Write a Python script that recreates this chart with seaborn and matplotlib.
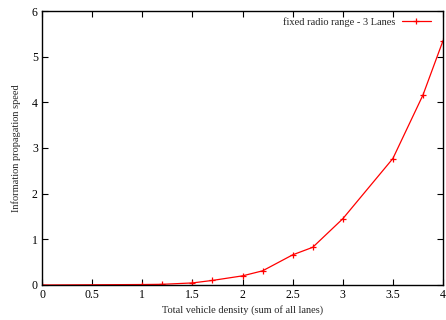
"""Information propagation speed vs. total vehicle density."""
import matplotlib
matplotlib.use("Agg")
import matplotlib.pyplot as plt
import pandas as pd
import seaborn as sns

density = [0, 1, 1.2, 1.5, 1.7, 2, 2.2, 2.5, 2.7, 3, 3.5, 3.8, 4]
speed = [0.0, 0.01, 0.015, 0.045, 0.1, 0.2, 0.31, 0.66, 0.825, 1.45, 2.77, 4.16, 5.35]
series_name = "fixed radio range - 3 Lanes"

xticks = [0, 0.5, 1, 1.5, 2, 2.5, 3, 3.5, 4]
xtick_labels = ["0", "0.5", "1", "1.5", "2", "2.5", "3", "3.5", "4"]
yticks = [0, 1, 2, 3, 4, 5, 6]

sns.set_style("ticks")
plt.rcParams["font.family"] = ["Liberation Serif", "DejaVu Serif"]

df = pd.DataFrame({"density": density, "speed": speed})

fig = plt.figure(figsize=(4.46, 3.2), dpi=100)
ax = fig.add_axes([0.0942, 0.1094, 0.8991, 0.8562])

sns.lineplot(data=df, x="density", y="speed", ax=ax, color="red",
             marker="+", markersize=5, markeredgewidth=0.9,
             markeredgecolor="red", linewidth=0.9, label=series_name)

ax.set_xlim(0, 4)
ax.set_ylim(0, 6)
ax.set_xticks(xticks)
ax.set_xticklabels(xtick_labels)
ax.set_yticks(yticks)
ax.tick_params(direction="in", length=4, width=0.8, labelsize=8.5,
               top=True, right=True, colors="black", pad=3)
for side in ax.spines.values():
    side.set_linewidth(1.0)
    side.set_color("black")

ax.set_xlabel("Total vehicle density (sum of all lanes)", fontsize=7.5, labelpad=3)
ax.set_ylabel("Information propagation speed", fontsize=7.5, labelpad=8)

ax.legend(loc="upper right", bbox_to_anchor=(0.985, 1.0), frameon=False,
          markerfirst=False, fontsize=7.5, handlelength=2.8,
          borderaxespad=0.2, handletextpad=0.6)

fig.savefig("out.png", dpi=100)
